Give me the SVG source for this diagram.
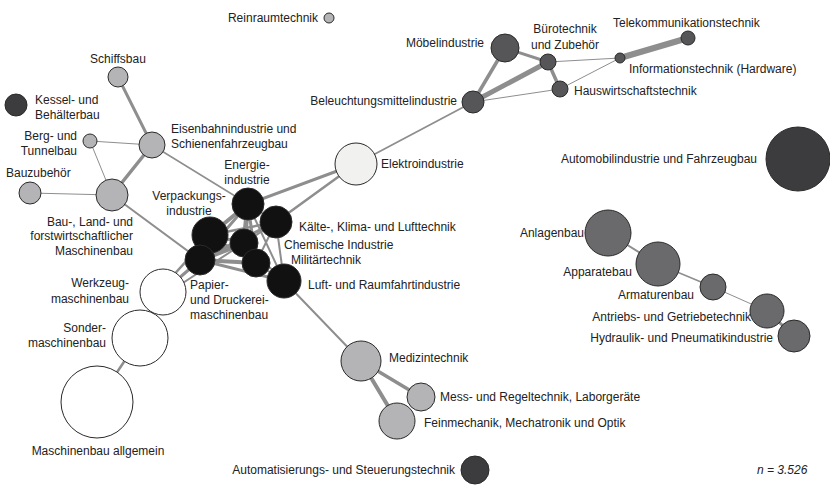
<svg xmlns="http://www.w3.org/2000/svg" width="830" height="486" viewBox="0 0 830 486">
  <style>
    text { font-family: "Liberation Sans", Arial, sans-serif; font-size: 12px; fill: #222; }
    .e { stroke: #8e8e8e; stroke-linecap: round; fill: none; }
    .n { stroke: #2a2a2a; stroke-width: 1; }
    .light { fill: #b4b4b6; }
    .pale { fill: #f1f1ef; }
    .white { fill: #ffffff; }
    .black { fill: #111111; }
    .dark { fill: #565658; }
    .darker { fill: #3c3c3e; }
    .mid { fill: #6a6a6c; }
    .end { text-anchor: end; }
    .mid-a { text-anchor: middle; }
  </style>
  <rect width="830" height="486" fill="#ffffff"/>

  <g id="connectors">
    <!-- rail / construction cluster -->
    <line class="e" x1="118" y1="77" x2="152" y2="145" stroke-width="3"/>
    <line class="e" x1="152" y1="145" x2="90" y2="141" stroke-width="1"/>
    <line class="e" x1="152" y1="145" x2="112" y2="195" stroke-width="3.5"/>
    <line class="e" x1="90" y1="141" x2="112" y2="195" stroke-width="1"/>
    <line class="e" x1="30" y1="193" x2="112" y2="195" stroke-width="1.2"/>
    <line class="e" x1="152" y1="145" x2="248" y2="204" stroke-width="1.5"/>
    <line class="e" x1="112" y1="195" x2="200" y2="260" stroke-width="2"/>
    <!-- electrical -->
    <line class="e" x1="248" y1="204" x2="356" y2="164" stroke-width="3"/>
    <line class="e" x1="276" y1="222" x2="356" y2="164" stroke-width="2.5"/>
    <line class="e" x1="356" y1="164" x2="473" y2="102" stroke-width="1.8"/>
    <!-- office / household cluster -->
    <line class="e" x1="473" y1="102" x2="505" y2="48" stroke-width="3.5"/>
    <line class="e" x1="473" y1="102" x2="548" y2="62" stroke-width="5"/>
    <line class="e" x1="473" y1="102" x2="560" y2="89" stroke-width="1"/>
    <line class="e" x1="505" y1="48" x2="548" y2="62" stroke-width="3"/>
    <line class="e" x1="548" y1="62" x2="560" y2="89" stroke-width="3.5"/>
    <line class="e" x1="548" y1="62" x2="620" y2="58" stroke-width="1"/>
    <line class="e" x1="560" y1="89" x2="620" y2="58" stroke-width="1"/>
    <line class="e" x1="620" y1="58" x2="688" y2="38" stroke-width="6"/>
    <!-- black core cluster -->
    <line class="e" x1="248" y1="204" x2="210" y2="235" stroke-width="4"/>
    <line class="e" x1="248" y1="204" x2="200" y2="260" stroke-width="3"/>
    <line class="e" x1="248" y1="204" x2="244" y2="243" stroke-width="5"/>
    <line class="e" x1="248" y1="204" x2="256" y2="263" stroke-width="3"/>
    <line class="e" x1="248" y1="204" x2="284" y2="281" stroke-width="2"/>
    <line class="e" x1="248" y1="204" x2="276" y2="222" stroke-width="2"/>
    <line class="e" x1="210" y1="235" x2="276" y2="222" stroke-width="2.5"/>
    <line class="e" x1="210" y1="235" x2="244" y2="243" stroke-width="3"/>
    <line class="e" x1="210" y1="235" x2="256" y2="263" stroke-width="2"/>
    <line class="e" x1="210" y1="235" x2="284" y2="281" stroke-width="2"/>
    <line class="e" x1="200" y1="260" x2="276" y2="222" stroke-width="3"/>
    <line class="e" x1="200" y1="260" x2="244" y2="243" stroke-width="5"/>
    <line class="e" x1="200" y1="260" x2="256" y2="263" stroke-width="4"/>
    <line class="e" x1="200" y1="260" x2="284" y2="281" stroke-width="3"/>
    <line class="e" x1="276" y1="222" x2="284" y2="281" stroke-width="2"/>
    <line class="e" x1="276" y1="222" x2="256" y2="263" stroke-width="2"/>
    <line class="e" x1="276" y1="222" x2="244" y2="243" stroke-width="2"/>
    <line class="e" x1="244" y1="243" x2="284" y2="281" stroke-width="2"/>
    <line class="e" x1="256" y1="263" x2="284" y2="281" stroke-width="2"/>
    <!-- machine building -->
    <line class="e" x1="163" y1="292" x2="200" y2="260" stroke-width="3"/>
    <line class="e" x1="160" y1="290" x2="210" y2="235" stroke-width="2.5"/>
    <line class="e" x1="166" y1="294" x2="244" y2="243" stroke-width="2"/>
    <line class="e" x1="140" y1="338" x2="97" y2="402" stroke-width="2.5"/>
    <!-- medical / measurement -->
    <line class="e" x1="284" y1="281" x2="361" y2="361" stroke-width="2"/>
    <line class="e" x1="361" y1="361" x2="421" y2="397" stroke-width="3.5"/>
    <line class="e" x1="361" y1="361" x2="397" y2="421" stroke-width="4"/>
    <!-- plant / drive technology chain -->
    <line class="e" x1="608" y1="233" x2="658" y2="264" stroke-width="2"/>
    <line class="e" x1="658" y1="264" x2="713" y2="287" stroke-width="1.5"/>
    <line class="e" x1="713" y1="287" x2="767" y2="311" stroke-width="1"/>
    <line class="e" x1="767" y1="311" x2="794" y2="336" stroke-width="3"/>
  </g>

  <g id="reinraumtechnik"><circle class="n light" cx="329" cy="18" r="5"/><text class="end" x="318" y="22">Reinraumtechnik</text></g>
  <g id="schiffsbau"><circle class="n light" cx="118" cy="77" r="10"/><text class="mid-a" x="118" y="63">Schiffsbau</text></g>
  <g id="kesselbau"><circle class="n darker" cx="16" cy="105" r="11"/><text x="35" y="104">Kessel- und</text><text x="35" y="119">Behälterbau</text></g>
  <g id="bergbau"><circle class="n light" cx="90" cy="141" r="7"/><text class="end" x="77" y="140">Berg- und</text><text class="end" x="77" y="155">Tunnelbau</text></g>
  <g id="eisenbahn"><circle class="n light" cx="152" cy="145" r="13"/><text x="171" y="133">Eisenbahnindustrie und</text><text x="171" y="148">Schienenfahrzeugbau</text></g>
  <g id="bauzubehoer"><circle class="n light" cx="30" cy="193" r="11"/><text x="6" y="177">Bauzubehör</text></g>
  <g id="bau-land"><circle class="n light" cx="112" cy="195" r="16"/><text class="end" x="133" y="226">Bau-, Land- und</text><text class="end" x="133" y="240">forstwirtschaftlicher</text><text class="end" x="133" y="255">Maschinenbau</text></g>
  <g id="elektroindustrie"><circle class="n pale" cx="356" cy="164" r="21"/><text x="381" y="168">Elektroindustrie</text></g>

  <g id="energieindustrie"><circle class="n black" cx="248" cy="204" r="16"/><text class="mid-a" x="247" y="169">Energie-</text><text class="mid-a" x="247" y="184">industrie</text></g>
  <g id="verpackungsindustrie"><circle class="n black" cx="210" cy="235" r="18"/><text class="mid-a" x="189" y="200">Verpackungs-</text><text class="mid-a" x="189" y="215">industrie</text></g>
  <g id="kaeltetechnik"><circle class="n black" cx="276" cy="222" r="16"/><text x="299" y="231">Kälte-, Klima- und Lufttechnik</text></g>
  <g id="chemische-industrie"><circle class="n black" cx="244" cy="243" r="14"/><text x="284" y="249">Chemische Industrie</text></g>
  <g id="militaertechnik"><circle class="n black" cx="256" cy="263" r="14"/><text x="291" y="264">Militärtechnik</text></g>
  <g id="papiermaschinenbau"><circle class="n black" cx="200" cy="260" r="15"/><text x="190" y="289">Papier-</text><text x="190" y="304">und Druckerei-</text><text x="190" y="319">maschinenbau</text></g>
  <g id="luftfahrt"><circle class="n black" cx="284" cy="281" r="17"/><text x="308" y="289">Luft- und Raumfahrtindustrie</text></g>

  <g id="werkzeugmaschinenbau"><circle class="n white" cx="163" cy="292" r="23"/><text class="end" x="129" y="287">Werkzeug-</text><text class="end" x="129" y="303">maschinenbau</text></g>
  <g id="sondermaschinenbau"><circle class="n white" cx="140" cy="338" r="28"/><text class="end" x="106" y="332">Sonder-</text><text class="end" x="106" y="347">maschinenbau</text></g>
  <g id="maschinenbau-allgemein"><circle class="n white" cx="97" cy="402" r="36"/><text class="mid-a" x="98" y="455">Maschinenbau allgemein</text></g>

  <g id="medizintechnik"><circle class="n light" cx="361" cy="361" r="20"/><text x="389" y="362">Medizintechnik</text></g>
  <g id="messtechnik"><circle class="n light" cx="421" cy="397" r="14"/><text x="440" y="401">Mess- und Regeltechnik, Laborgeräte</text></g>
  <g id="feinmechanik"><circle class="n light" cx="397" cy="421" r="18"/><text x="424" y="427">Feinmechanik, Mechatronik und Optik</text></g>
  <g id="automatisierung"><circle class="n darker" cx="475" cy="470" r="14"/><text class="end" x="455" y="474">Automatisierungs- und Steuerungstechnik</text></g>

  <g id="automobilindustrie"><circle class="n darker" cx="798" cy="159" r="32"/><text class="end" x="757" y="163">Automobilindustrie und Fahrzeugbau</text></g>
  <g id="anlagenbau"><circle class="n mid" cx="608" cy="233" r="23"/><text class="end" x="584" y="237">Anlagenbau</text></g>
  <g id="apparatebau"><circle class="n mid" cx="658" cy="264" r="22"/><text class="end" x="632" y="276">Apparatebau</text></g>
  <g id="armaturenbau"><circle class="n mid" cx="713" cy="287" r="13"/><text class="end" x="694" y="299">Armaturenbau</text></g>
  <g id="antriebstechnik"><circle class="n mid" cx="767" cy="311" r="17"/><text class="end" x="751" y="321">Antriebs- und Getriebetechnik</text></g>
  <g id="hydraulik"><circle class="n mid" cx="794" cy="336" r="16"/><text class="end" x="773" y="342">Hydraulik- und Pneumatikindustrie</text></g>

  <g id="moebelindustrie"><circle class="n dark" cx="505" cy="48" r="14"/><text class="end" x="484" y="47">Möbelindustrie</text></g>
  <g id="buerotechnik"><circle class="n dark" cx="548" cy="62" r="8"/><text class="mid-a" x="565" y="33">Bürotechnik</text><text class="mid-a" x="565" y="49">und Zubehör</text></g>
  <g id="informationstechnik"><circle class="n dark" cx="620" cy="58" r="5"/><text x="629" y="73">Informationstechnik (Hardware)</text></g>
  <g id="telekommunikation"><circle class="n dark" cx="688" cy="38" r="7"/><text x="613" y="27">Telekommunikationstechnik</text></g>
  <g id="hauswirtschaft"><circle class="n dark" cx="560" cy="89" r="8"/><text x="574" y="95">Hauswirtschaftstechnik</text></g>
  <g id="beleuchtung"><circle class="n dark" cx="473" cy="102" r="11"/><text class="end" x="457" y="105">Beleuchtungsmittelindustrie</text></g>

  <text x="757" y="474" font-style="italic">n = 3.526</text>
</svg>
